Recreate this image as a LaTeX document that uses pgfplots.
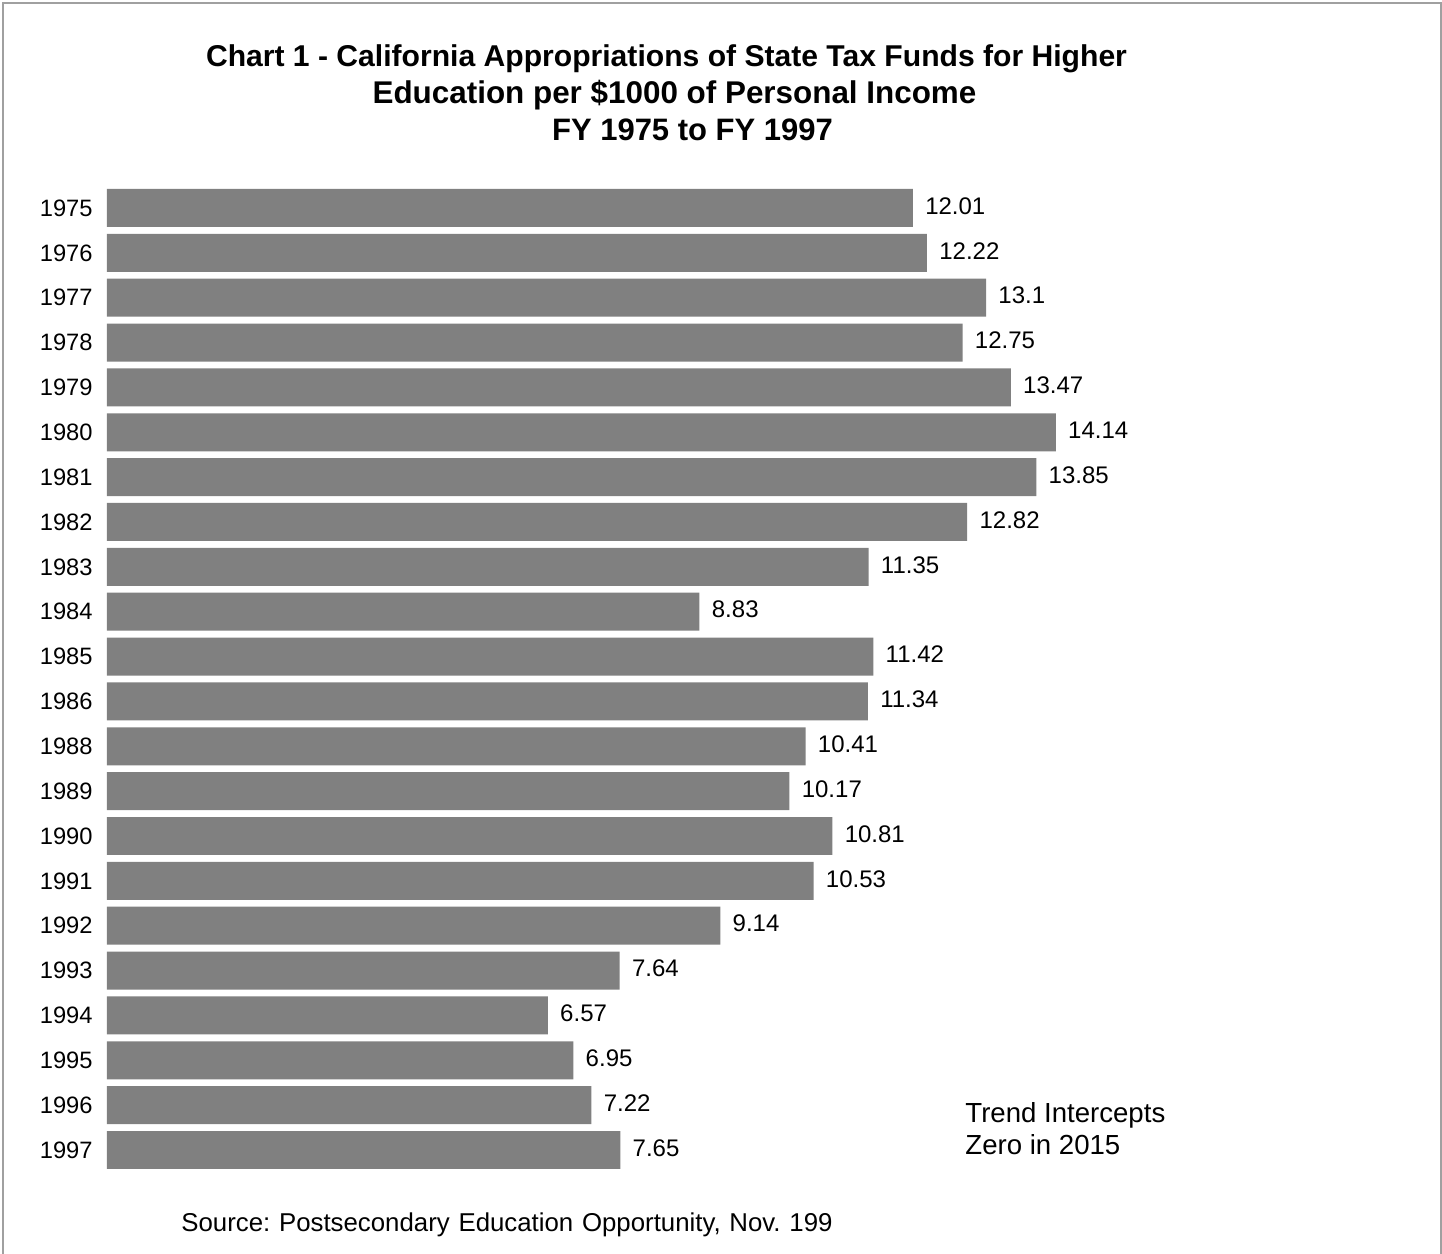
\documentclass[border=0pt]{standalone}
\usepackage{fontspec}
\setmainfont{Liberation Sans}
\usepackage{pgfplots}
\usepackage{pgfplotstable}
\pgfplotsset{compat=1.18}
\frenchspacing
\definecolor{bargray}{HTML}{808080}
\definecolor{framegray}{HTML}{A0A0A0}
\pgfplotstableread{
y val lab
0 12.01 12.01
1 12.22 12.22
2 13.1 13.1
3 12.75 12.75
4 13.47 13.47
5 14.14 14.14
6 13.85 13.85
7 12.82 12.82
8 11.35 11.35
9 8.83 8.83
10 11.42 11.42
11 11.34 11.34
12 10.41 10.41
13 10.17 10.17
14 10.81 10.81
15 10.53 10.53
16 9.14 9.14
17 7.64 7.64
18 6.57 6.57
19 6.95 6.95
20 7.22 7.22
21 7.65 7.65
}\data
\begin{document}
\begin{tikzpicture}
\draw[framegray, line width=1pt] (1.5pt,-2pt) -- (1.5pt,625.5pt) -- (720.25pt,625.5pt) -- (720.25pt,-2pt);
\node[font=\bfseries\fontsize{15.05}{18}\selectfont, anchor=base, inner sep=0pt] at (333.25pt,593.5pt)
  {Chart 1 - California Appropriations of State Tax Funds for Higher};
\node[font=\bfseries\fontsize{15.7}{18}\selectfont, anchor=base, inner sep=0pt] at (337.25pt,575pt)
  {Education per \$1000 of Personal Income};
\node[font=\bfseries\fontsize{15.5}{18}\selectfont, anchor=base, inner sep=0pt] at (346.25pt,556.5pt)
  {FY 1975 to FY 1997};
\begin{axis}[
  at={(53.5pt,40.79pt)}, anchor=south west,
  scale only axis, width=536.8pt, height=493.43pt,
  xmin=0, xmax=16, ymin=-0.5, ymax=21.5, y dir=reverse,
  xbar, bar width=0.847, bar shift=0pt,
  hide x axis,
  axis y line*=left, y axis line style={draw=none},
  major tick length=0pt,
  ytick={0,...,21},
  yticklabels={1975,1976,1977,1978,1979,1980,1981,1982,1983,1984,1985,1986,1988,1989,1990,1991,1992,1993,1994,1995,1996,1997},
  yticklabel style={font=\fontsize{11.85}{14}\selectfont, anchor=east, inner sep=0pt, xshift=-7pt},
  point meta=explicit symbolic,
  nodes near coords,
  nodes near coords style={font=\fontsize{12}{14}\selectfont, anchor=west, inner sep=0pt, xshift=6pt, yshift=1pt},
  clip=false,
]
\addplot[fill=bargray, draw=none] table[x=val, y=y, meta=lab] \data;
\end{axis}
\node[font=\fontsize{13.8}{16}\selectfont, align=left, anchor=west, inner sep=0pt] at (482.5pt,62.5pt) {Trend Intercepts\\Zero in 2015};
\begin{scope}
\clip (0,0) rectangle (416pt,627pt);
\node[font=\fontsize{12.9}{14}\selectfont, anchor=west, inner sep=0pt] at (90.5pt,14.5pt) {\spaceskip 4.4pt Source: Postsecondary Education Opportunity, Nov. 1996};
\end{scope}
\pgfresetboundingbox
\useasboundingbox (0,0) rectangle (721pt,627pt);
\end{tikzpicture}
\end{document}
